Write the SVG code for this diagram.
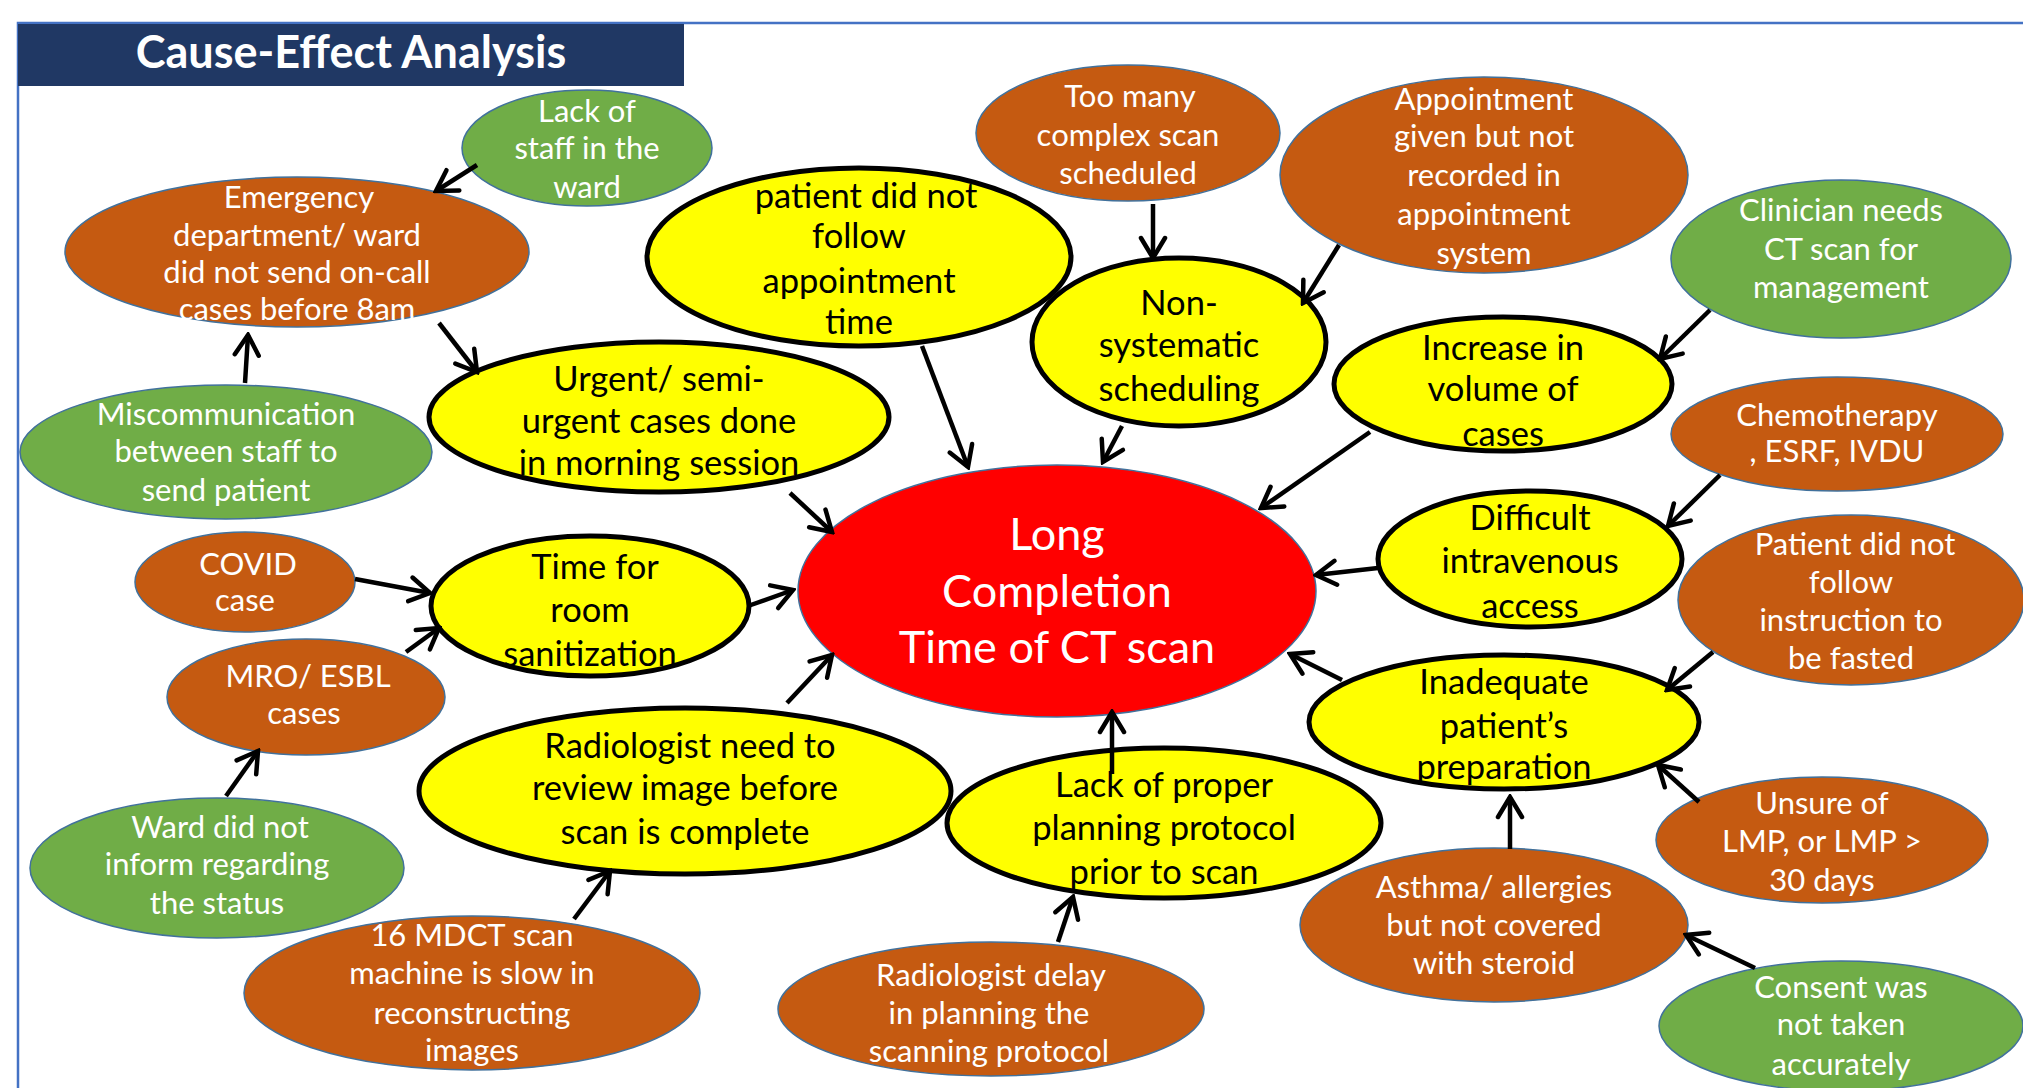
<svg xmlns="http://www.w3.org/2000/svg" width="2023" height="1088" viewBox="0 0 2023 1088">
  <defs>
    <style>
      .bg { fill: #ffffff; }
      .frame { stroke: #4472C4; stroke-width: 2.5; fill: none; }
      .title-bar { fill: #203864; }
      .title { font-family: Lato, "Liberation Sans", sans-serif; font-weight: bold; font-size: 45px; fill: #ffffff; text-anchor: middle; }
      .orange { fill: #C55A11; stroke: #41719C; stroke-width: 1.5; }
      .green { fill: #70AD47; stroke: #41719C; stroke-width: 1.5; }
      .yellow { fill: #FFFF00; stroke: #000000; stroke-width: 5; }
      .red { fill: #FF0000; stroke: #41719C; stroke-width: 1.5; }
      .lbl { font-family: Lato, "Liberation Sans", sans-serif; font-size: 31px; fill: #ffffff; text-anchor: middle; dominant-baseline: central; }
      .lbl-y { font-family: Lato, "Liberation Sans", sans-serif; font-size: 34.5px; fill: #000000; text-anchor: middle; dominant-baseline: central; }
      .lbl-c { font-family: Lato, "Liberation Sans", sans-serif; font-size: 45px; fill: #ffffff; text-anchor: middle; dominant-baseline: central; }
      .arrow { stroke: #000000; stroke-width: 4.5; fill: none; marker-end: url(#ah); }
    </style>
    <marker id="ah" markerUnits="userSpaceOnUse" markerWidth="32" markerHeight="32" viewBox="0 0 32 32" refX="29" refY="16" orient="auto">
      <path d="M9,4 L29,16 L9,28" fill="none" stroke="#000000" stroke-width="4.5" stroke-linecap="round"/>
    </marker>
  </defs>

  <rect class="bg" x="0" y="0" width="2023" height="1088"/>

  <!-- frame and heading -->
  <g id="header">
    <path class="frame" d="M18,1088 L18,23 L2023,23"/>
    <rect class="title-bar" x="18" y="24" width="666" height="62"/>
    <text class="title" x="351" y="68">Cause-Effect Analysis</text>
  </g>

  <!-- effect -->
  <g id="n-effect">
    <ellipse class="red" cx="1057" cy="591" rx="259" ry="126"/>
    <text class="lbl-c" x="1057" y="533">Long</text>
    <text class="lbl-c" x="1057" y="590">Completion</text>
    <text class="lbl-c" x="1057" y="646">Time of CT scan</text>
  </g>

  <!-- main causes -->
  <g id="n-appointment-time">
    <ellipse class="yellow" cx="859" cy="257" rx="212" ry="89"/>
    <text class="lbl-y" x="866" y="194">patient did not</text>
    <text class="lbl-y" x="859" y="234">follow</text>
    <text class="lbl-y" x="859" y="279">appointment</text>
    <text class="lbl-y" x="859" y="320">time</text>
  </g>
  <g id="n-urgent">
    <ellipse class="yellow" cx="659" cy="417" rx="230" ry="75"/>
    <text class="lbl-y" x="659" y="377">Urgent/ semi-</text>
    <text class="lbl-y" x="659" y="419">urgent cases done</text>
    <text class="lbl-y" x="659" y="461">in morning session</text>
  </g>
  <g id="n-sanitization">
    <ellipse class="yellow" cx="590" cy="606" rx="159" ry="70"/>
    <text class="lbl-y" x="595" y="565">Time for</text>
    <text class="lbl-y" x="590" y="608">room</text>
    <text class="lbl-y" x="590" y="652">sanitization</text>
  </g>
  <g id="n-review">
    <ellipse class="yellow" cx="685" cy="791" rx="266" ry="83"/>
    <text class="lbl-y" x="690" y="744">Radiologist need to</text>
    <text class="lbl-y" x="685" y="786">review image before</text>
    <text class="lbl-y" x="685" y="830">scan is complete</text>
  </g>
  <g id="n-planning">
    <ellipse class="yellow" cx="1164" cy="823" rx="217" ry="75"/>
    <text class="lbl-y" x="1164" y="783">Lack of proper</text>
    <text class="lbl-y" x="1164" y="826">planning protocol</text>
    <text class="lbl-y" x="1164" y="870">prior to scan</text>
  </g>
  <g id="n-scheduling">
    <ellipse class="yellow" cx="1179" cy="342" rx="147" ry="84"/>
    <text class="lbl-y" x="1179" y="301">Non-</text>
    <text class="lbl-y" x="1179" y="343">systematic</text>
    <text class="lbl-y" x="1179" y="387">scheduling</text>
  </g>
  <g id="n-volume">
    <ellipse class="yellow" cx="1503" cy="384" rx="169" ry="67"/>
    <text class="lbl-y" x="1503" y="346">Increase in</text>
    <text class="lbl-y" x="1503" y="387">volume of</text>
    <text class="lbl-y" x="1503" y="432">cases</text>
  </g>
  <g id="n-iv-access">
    <ellipse class="yellow" cx="1530" cy="559" rx="152" ry="68"/>
    <text class="lbl-y" x="1530" y="516">Difficult</text>
    <text class="lbl-y" x="1530" y="559">intravenous</text>
    <text class="lbl-y" x="1530" y="604">access</text>
  </g>
  <g id="n-preparation">
    <ellipse class="yellow" cx="1504" cy="722" rx="195" ry="67"/>
    <text class="lbl-y" x="1504" y="680">Inadequate</text>
    <text class="lbl-y" x="1504" y="724">patient’s</text>
    <text class="lbl-y" x="1504" y="765">preparation</text>
  </g>

  <!-- sub causes -->
  <g id="n-staff">
    <ellipse class="green" cx="587" cy="148" rx="125" ry="58"/>
    <text class="lbl" x="587" y="110">Lack of</text>
    <text class="lbl" x="587" y="147">staff in the</text>
    <text class="lbl" x="587" y="186">ward</text>
  </g>
  <g id="n-emergency">
    <ellipse class="orange" cx="297" cy="252" rx="232" ry="75"/>
    <text class="lbl" x="299" y="196">Emergency</text>
    <text class="lbl" x="297" y="234">department/ ward</text>
    <text class="lbl" x="297" y="271">did not send on-call</text>
    <text class="lbl" x="297" y="308">cases before 8am</text>
  </g>
  <g id="n-miscommunication">
    <ellipse class="green" cx="226" cy="452" rx="206" ry="67"/>
    <text class="lbl" x="226" y="413">Miscommunication</text>
    <text class="lbl" x="226" y="450">between staff to</text>
    <text class="lbl" x="226" y="489">send patient</text>
  </g>
  <g id="n-covid">
    <ellipse class="orange" cx="245" cy="582" rx="110" ry="50"/>
    <text class="lbl" x="248" y="563">COVID</text>
    <text class="lbl" x="245" y="599">case</text>
  </g>
  <g id="n-mro">
    <ellipse class="orange" cx="306" cy="697" rx="139" ry="58"/>
    <text class="lbl" x="308" y="675">MRO/ ESBL</text>
    <text class="lbl" x="304" y="712">cases</text>
  </g>
  <g id="n-ward-status">
    <ellipse class="green" cx="217" cy="868" rx="187" ry="70"/>
    <text class="lbl" x="220" y="826">Ward did not</text>
    <text class="lbl" x="217" y="863">inform regarding</text>
    <text class="lbl" x="217" y="902">the status</text>
  </g>
  <g id="n-mdct">
    <ellipse class="orange" cx="472" cy="993" rx="228" ry="77"/>
    <text class="lbl" x="472" y="934">16 MDCT scan</text>
    <text class="lbl" x="472" y="972">machine is slow in</text>
    <text class="lbl" x="472" y="1012">reconstructing</text>
    <text class="lbl" x="472" y="1049">images</text>
  </g>
  <g id="n-radiologist-delay">
    <ellipse class="orange" cx="991" cy="1009" rx="213" ry="67"/>
    <text class="lbl" x="991" y="974">Radiologist delay</text>
    <text class="lbl" x="989" y="1012">in planning the</text>
    <text class="lbl" x="989" y="1050">scanning protocol</text>
  </g>
  <g id="n-complex-scan">
    <ellipse class="orange" cx="1128" cy="133" rx="152" ry="68"/>
    <text class="lbl" x="1130" y="95">Too many</text>
    <text class="lbl" x="1128" y="134">complex scan</text>
    <text class="lbl" x="1128" y="172">scheduled</text>
  </g>
  <g id="n-not-recorded">
    <ellipse class="orange" cx="1484" cy="175" rx="204" ry="98"/>
    <text class="lbl" x="1484" y="98">Appointment</text>
    <text class="lbl" x="1484" y="135">given but not</text>
    <text class="lbl" x="1484" y="174">recorded in</text>
    <text class="lbl" x="1484" y="213">appointment</text>
    <text class="lbl" x="1484" y="252">system</text>
  </g>
  <g id="n-clinician">
    <ellipse class="green" cx="1841" cy="259" rx="170" ry="79"/>
    <text class="lbl" x="1841" y="209">Clinician needs</text>
    <text class="lbl" x="1841" y="248">CT scan for</text>
    <text class="lbl" x="1841" y="286">management</text>
  </g>
  <g id="n-chemo">
    <ellipse class="orange" cx="1837" cy="434" rx="166" ry="57"/>
    <text class="lbl" x="1837" y="414">Chemotherapy</text>
    <text class="lbl" x="1837" y="450">, ESRF, IVDU</text>
  </g>
  <g id="n-fasting">
    <ellipse class="orange" cx="1851" cy="600" rx="173" ry="85"/>
    <text class="lbl" x="1855" y="543">Patient did not</text>
    <text class="lbl" x="1851" y="581">follow</text>
    <text class="lbl" x="1851" y="619">instruction to</text>
    <text class="lbl" x="1851" y="657">be fasted</text>
  </g>
  <g id="n-lmp">
    <ellipse class="orange" cx="1822" cy="840" rx="166" ry="63"/>
    <text class="lbl" x="1822" y="802">Unsure of</text>
    <text class="lbl" x="1822" y="840">LMP, or LMP &gt;</text>
    <text class="lbl" x="1822" y="879">30 days</text>
  </g>
  <g id="n-asthma">
    <ellipse class="orange" cx="1494" cy="925" rx="194" ry="77"/>
    <text class="lbl" x="1494" y="886">Asthma/ allergies</text>
    <text class="lbl" x="1494" y="924">but not covered</text>
    <text class="lbl" x="1494" y="962">with steroid</text>
  </g>
  <g id="n-consent">
    <ellipse class="green" cx="1841" cy="1026" rx="182" ry="65"/>
    <text class="lbl" x="1841" y="986">Consent was</text>
    <text class="lbl" x="1841" y="1023">not taken</text>
    <text class="lbl" x="1841" y="1063">accurately</text>
  </g>

  <!-- cause-to-effect arrows -->
  <g id="connectors">
    <line class="arrow" x1="477" y1="165" x2="436" y2="191"/>
    <line class="arrow" x1="439" y1="323" x2="477" y2="372"/>
    <line class="arrow" x1="245" y1="383" x2="248" y2="335"/>
    <line class="arrow" x1="355" y1="579" x2="430" y2="593"/>
    <line class="arrow" x1="406" y1="652" x2="439" y2="628"/>
    <line class="arrow" x1="226" y1="796" x2="258" y2="751"/>
    <line class="arrow" x1="574" y1="919" x2="610" y2="871"/>
    <line class="arrow" x1="1058" y1="942" x2="1073" y2="897"/>
    <line class="arrow" x1="922" y1="346" x2="968" y2="467"/>
    <line class="arrow" x1="790" y1="493" x2="832" y2="532"/>
    <line class="arrow" x1="748" y1="606" x2="793" y2="590"/>
    <line class="arrow" x1="787" y1="703" x2="832" y2="655"/>
    <line class="arrow" x1="1112" y1="774" x2="1112" y2="712"/>
    <line class="arrow" x1="1153" y1="204" x2="1153" y2="258"/>
    <line class="arrow" x1="1339" y1="245" x2="1303" y2="303"/>
    <line class="arrow" x1="1122" y1="426" x2="1103" y2="462"/>
    <line class="arrow" x1="1710" y1="310" x2="1660" y2="359"/>
    <line class="arrow" x1="1370" y1="432" x2="1261" y2="508"/>
    <line class="arrow" x1="1720" y1="475" x2="1668" y2="526"/>
    <line class="arrow" x1="1378" y1="568" x2="1316" y2="575"/>
    <line class="arrow" x1="1713" y1="652" x2="1667" y2="690"/>
    <line class="arrow" x1="1342" y1="680" x2="1290" y2="654"/>
    <line class="arrow" x1="1699" y1="802" x2="1658" y2="765"/>
    <line class="arrow" x1="1510" y1="849" x2="1510" y2="797"/>
    <line class="arrow" x1="1755" y1="968" x2="1686" y2="935"/>
  </g>
</svg>
